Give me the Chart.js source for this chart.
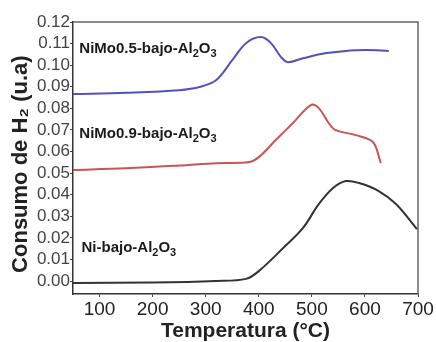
<!DOCTYPE html>
<html>
<head>
<meta charset="utf-8">
<script src="https://cdn.jsdelivr.net/npm/chart.js@4.4.1/dist/chart.umd.min.js"></script>
<style>
  body { margin: 0; background: #fff; }
  #wrap { width: 436px; height: 342px; }
</style>
</head>
<body>
<div id="wrap"><canvas id="myChart" width="436" height="342"></canvas></div>
<script>
// TPR curves
const blueTemps = [50, 150, 250, 290, 320, 350, 376, 404, 423, 442, 455, 483, 527, 560, 602, 645];
const blueVals = [0.0866, 0.0872, 0.0884, 0.09, 0.0931, 0.1023, 0.1102, 0.113, 0.1102, 0.1037, 0.1014, 0.1032, 0.1056, 0.1065, 0.107, 0.1066];

const redTemps = [50, 150, 250, 320, 382, 400, 432, 464, 498, 513, 532, 545, 583, 615, 630];
const redVals = [0.0514, 0.0522, 0.0535, 0.0546, 0.0551, 0.0574, 0.0653, 0.0731, 0.0815, 0.0801, 0.0731, 0.0699, 0.0676, 0.0644, 0.0546];

const blackTemps = [50, 200, 319, 376, 400, 446, 483, 513, 540, 564, 589, 626, 659, 698];
const blackVals = [-0.0009, -0.0007, 0, 0.001, 0.0046, 0.0153, 0.0245, 0.0356, 0.0431, 0.0463, 0.0454, 0.0417, 0.0356, 0.0241];

const xTicks = [100, 200, 300, 400, 500, 600, 700];
const yTicks = [0, 0.01, 0.02, 0.03, 0.04, 0.05, 0.06, 0.07, 0.08, 0.09, 0.1, 0.11, 0.12];

// curve labels ("_n" = subscript)
const labelTexts = ["NiMo0.5-bajo-Al_2O_3", "NiMo0.9-bajo-Al_2O_3", "Ni-bajo-Al_2O_3"];
const labelTemps = [62, 62, 66];
const labelVals = [0.1056, 0.0662, 0.0134];

const toPoints = (xs, ys) => xs.map((x, i) => ({ x: x, y: ys[i] }));

const FONT = "'Liberation Sans', Arial, sans-serif";

// draws text with _digit subscripts
const drawSubText = (ctx, text, x, y) => {
  const parts = text.split(/_(\d)/);
  let cx = x;
  parts.forEach((p, i) => {
    if (i % 2 === 1) {
      ctx.font = "bold 11px " + FONT;
      ctx.fillText(p, cx, y + 4);
    } else {
      ctx.font = "bold 15px " + FONT;
      ctx.fillText(p, cx, y);
    }
    cx += ctx.measureText(p).width;
  });
};

const labelPlugin = {
  id: "curveLabels",
  afterDatasetsDraw(chart) {
    const ctx = chart.ctx;
    const xs = chart.scales.x;
    const ys = chart.scales.y;
    ctx.save();
    ctx.fillStyle = "#1a1a1a";
    ctx.textBaseline = "alphabetic";
    ctx.textAlign = "left";
    labelTexts.forEach((t, i) => {
      drawSubText(ctx, t, xs.getPixelForValue(labelTemps[i]), ys.getPixelForValue(labelVals[i]));
    });
    ctx.restore();
  }
};

// grey frame round the plot
const framePlugin = {
  id: "frame",
  beforeDatasetsDraw(chart) {
    const { ctx, chartArea } = chart;
    ctx.save();
    ctx.strokeStyle = "#666";
    ctx.lineWidth = 1.5;
    ctx.beginPath();
    ctx.moveTo(chartArea.left, chartArea.top);
    ctx.lineTo(chartArea.right, chartArea.top);
    ctx.lineTo(chartArea.right, chartArea.bottom);
    ctx.stroke();
    ctx.restore();
  }
};

const lineSet = (data, color) => ({
  data: data,
  borderColor: color,
  borderWidth: 2,
  pointRadius: 0,
  fill: false,
  tension: 0.35,
  showLine: true
});

const ctx = document.getElementById("myChart").getContext("2d");
const myChart = new Chart(ctx, {
  type: "scatter",
  data: {
    datasets: [
      lineSet(toPoints(blueTemps, blueVals), "#5252bd"),
      lineSet(toPoints(redTemps, redVals), "#c95454"),
      lineSet(toPoints(blackTemps, blackVals), "#333333")
    ]
  },
  options: {
    responsive: false,
    animation: false,
    layout: { padding: { top: 22, right: 18, left: 0, bottom: 0 } },
    plugins: { legend: { display: false }, tooltip: { enabled: false } },
    scales: {
      x: {
        type: "linear",
        min: 50,
        max: 700,
        afterBuildTicks: (scale) => { scale.ticks = xTicks.map((v) => ({ value: v })); },
        afterFit: (scale) => { scale.height = 48; },
        grid: { drawOnChartArea: false, tickLength: 3, color: "#444" },
        border: { color: "#333", width: 1.5 },
        ticks: {
          padding: 1,
          color: "#222",
          autoSkip: false,
          font: { family: FONT, size: 19 },
          maxRotation: 0
        },
        title: {
          display: true,
          text: "Temperatura (°C)",
          color: "#222",
          font: { family: FONT, size: 21, weight: "bold", lineHeight: 1 },
          padding: { top: 0, bottom: 0 }
        }
      },
      y: {
        type: "linear",
        min: -0.006,
        max: 0.12,
        afterBuildTicks: (scale) => { scale.ticks = yTicks.map((v) => ({ value: v })); },
        afterFit: (scale) => { scale.width = 73; },
        grid: { drawOnChartArea: false, tickLength: 3, color: "#444" },
        border: { color: "#333", width: 1.5 },
        ticks: {
          padding: 0,
          color: "#444",
          autoSkip: false,
          font: { family: FONT, size: 17 },
          callback: (v) => v.toFixed(2)
        },
        title: {
          display: true,
          text: "Consumo de H₂ (u.a)  ",
          color: "#222",
          font: { family: FONT, size: 22, weight: "bold", lineHeight: 1 },
          padding: { top: 10, bottom: 0 }
        }
      }
    }
  },
  plugins: [framePlugin, labelPlugin]
});
</script>
</body>
</html>
